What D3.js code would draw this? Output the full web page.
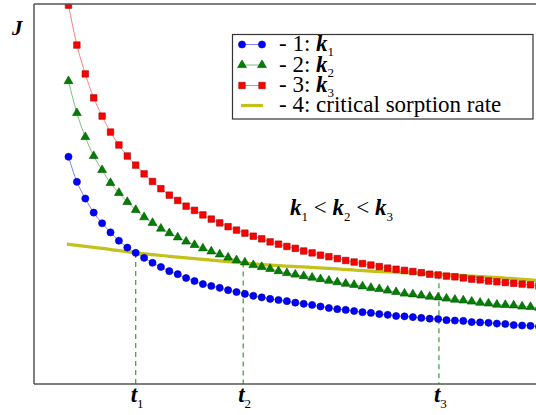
<!DOCTYPE html>
<html>
<head>
<meta charset="utf-8">
<script src="https://cdn.jsdelivr.net/npm/d3@7"></script>
<style>
  body { margin: 0; background: #fff; }
  svg { display: block; }
</style>
</head>
<body>
<svg id="chart" width="536" height="415"></svg>
<script>
// time index of each marker (0..56), J values
var blueJ = [5.98, 5.32, 4.88, 4.51, 4.23, 3.99, 3.77, 3.59, 3.45, 3.32,
    3.19, 3.08, 2.97, 2.89, 2.79, 2.71, 2.63, 2.58, 2.53, 2.47,
    2.42, 2.37, 2.32, 2.28, 2.24, 2.21, 2.18, 2.14, 2.11, 2.08,
    2.04, 2.00, 1.97, 1.95, 1.92, 1.89, 1.87, 1.84, 1.82, 1.79,
    1.78, 1.76, 1.74, 1.72, 1.71, 1.68, 1.67, 1.66, 1.63, 1.62,
    1.61, 1.59, 1.58, 1.55, 1.54, 1.53, 1.51];

var greenJ = [7.97, 7.13, 6.50, 6.00, 5.63, 5.29, 5.03, 4.79, 4.58, 4.39,
    4.24, 4.09, 3.97, 3.86, 3.75, 3.66, 3.57, 3.49, 3.41, 3.33,
    3.26, 3.20, 3.13, 3.08, 3.03, 2.97, 2.92, 2.88, 2.84, 2.80,
    2.76, 2.72, 2.68, 2.64, 2.61, 2.57, 2.53, 2.50, 2.46, 2.42,
    2.38, 2.36, 2.33, 2.30, 2.28, 2.25, 2.22, 2.20, 2.17, 2.14,
    2.12, 2.09, 2.08, 2.07, 2.04, 2.03, 2.01];

var redJ = [9.97, 8.92, 8.16, 7.53, 7.05, 6.63, 6.29, 6.00, 5.76, 5.53,
    5.33, 5.14, 4.97, 4.83, 4.68, 4.57, 4.45, 4.34, 4.24, 4.14,
    4.05, 3.97, 3.89, 3.82, 3.74, 3.68, 3.62, 3.57, 3.50, 3.45,
    3.39, 3.35, 3.30, 3.25, 3.21, 3.17, 3.13, 3.09, 3.05, 3.02,
    2.99, 2.96, 2.93, 2.89, 2.87, 2.84, 2.82, 2.79, 2.76, 2.74,
    2.71, 2.69, 2.67, 2.65, 2.63, 2.61, 2.58];

// critical sorption rate
var critT = [-0.2, 4, 8, 12, 16, 20, 24, 28, 32, 36, 40, 44, 48, 52, 56];
var critJ = [3.68, 3.57, 3.45, 3.36, 3.28, 3.20, 3.13, 3.08, 3.03, 2.97, 2.93, 2.89, 2.84, 2.79, 2.72];

// crossing points t1, t2, t3
var crossNames = ['1', '2', '3'];
var crossT = [8.0, 20.8, 44.1];
var crossJ = [3.45, 3.20, 2.89];

var legendLabels = ['1', '2', '3', '4: critical sorption rate'];

var serif = '"Liberation Serif", "Times New Roman", Times, "DejaVu Serif", serif';

var svg = d3.select('#chart');

var x = d3.scaleLinear().domain([0, 56]).range([68.5, 538.9]);
var y = d3.scaleLinear().domain([0, 10]).range([384, 4]);

svg.append('clipPath').attr('id', 'plotclip')
    .append('rect').attr('x', 34).attr('y', 4).attr('width', 520).attr('height', 380);

var plot = svg.append('g').attr('clip-path', 'url(#plotclip)');

// dashed verticals
for (let i = 0; i < crossT.length; i++) {
    plot.append('line')
        .attr('x1', x(crossT[i])).attr('x2', x(crossT[i]))
        .attr('y1', y(crossJ[i])).attr('y2', y(0))
        .attr('stroke', '#4aa04a').attr('stroke-width', 1.3)
        .attr('stroke-dasharray', '5,4');
}

var line = d3.line().x((d, i) => x(i)).y(d => y(d)).curve(d3.curveMonotoneX);

var series = [
    { vals: blueJ, color: '#0000ff', edge: '#0000aa', lineColor: '#7f7fff', shape: d3.symbolCircle, size: 40 },
    { vals: greenJ, color: '#008000', edge: '#005000', lineColor: '#7fbf7f', shape: d3.symbolTriangle, size: 34 },
    { vals: redJ, color: '#ff0000', edge: '#a00000', lineColor: '#ff8080', shape: d3.symbolSquare, size: 42 }
];

series.forEach(function (s) {
    plot.append('path').attr('d', line(s.vals))
        .attr('fill', 'none').attr('stroke', s.lineColor).attr('stroke-width', 1);
});

// yellow critical line
var critLine = d3.line().x((d, i) => x(critT[i])).y(d => y(d)).curve(d3.curveMonotoneX);
plot.append('path').attr('d', critLine(critJ))
    .attr('fill', 'none').attr('stroke', '#c4c21a').attr('stroke-width', 3.2);

series.forEach(function (s) {
    plot.selectAll(null).data(s.vals).enter().append('path')
        .attr('d', d3.symbol().type(s.shape).size(s.size))
        .attr('transform', (d, i) => 'translate(' + x(i) + ',' + y(d) + ')')
        .attr('fill', s.color).attr('stroke', s.edge).attr('stroke-width', 0.6);
});

// frame: top, left, bottom
var frameColor = '#555';
svg.append('line').attr('x1', 34).attr('x2', 536).attr('y1', 4).attr('y2', 4)
    .attr('stroke', frameColor).attr('stroke-width', 1.5);
svg.append('line').attr('x1', 34).attr('x2', 34).attr('y1', 4).attr('y2', 384)
    .attr('stroke', frameColor).attr('stroke-width', 1.5);
svg.append('line').attr('x1', 34).attr('x2', 536).attr('y1', 384).attr('y2', 384)
    .attr('stroke', frameColor).attr('stroke-width', 1.5);

// axis label J
svg.append('text').attr('x', 12).attr('y', 35).attr('font-family', serif)
    .attr('font-size', 21).attr('font-weight', 'bold').attr('font-style', 'italic')
    .text('J');

// t labels
for (let i = 0; i < crossT.length; i++) {
    let t = svg.append('text').attr('x', x(crossT[i]) - 5).attr('y', 402)
        .attr('font-family', serif).attr('font-size', 23);
    t.append('tspan').attr('font-weight', 'bold').attr('font-style', 'italic').text('t');
    t.append('tspan').attr('dy', 6).attr('font-size', 13).text(crossNames[i]);
}

// k1 < k2 < k3 annotation
var ann = svg.append('text').attr('x', 290).attr('y', 215)
    .attr('font-family', serif).attr('font-size', 23);
for (let i = 0; i < 3; i++) {
    ann.append('tspan').attr('font-weight', 'bold').attr('font-style', 'italic').text('k');
    ann.append('tspan').attr('dy', 6).attr('font-size', 13).text(crossNames[i]);
    if (i < 2) ann.append('tspan').attr('dy', -6).text(' < ');
}

// legend
var lg = svg.append('g');
lg.append('rect').attr('x', 232.5).attr('y', 34.5).attr('width', 300.5).attr('height', 84.5)
    .attr('fill', '#fff').attr('stroke', '#333').attr('stroke-width', 1.2);

var rowBase = [51, 71.5, 92, 112];
for (let i = 0; i < 4; i++) {
    let my = rowBase[i] - 6.5;
    if (i < 3) {
        let s = series[i];
        lg.append('line').attr('x1', 242).attr('x2', 262).attr('y1', my).attr('y2', my)
            .attr('stroke', s.lineColor).attr('stroke-width', 1);
        [242, 262].forEach(function (mx) {
            lg.append('path').attr('d', d3.symbol().type(s.shape).size(s.size))
                .attr('transform', 'translate(' + mx + ',' + my + ')')
                .attr('fill', s.color).attr('stroke', s.edge).attr('stroke-width', 0.6);
        });
        let t = lg.append('text').attr('x', 279).attr('y', rowBase[i])
            .attr('font-family', serif).attr('font-size', 23);
        t.append('tspan').text('- ' + legendLabels[i] + ': ');
        t.append('tspan').attr('font-weight', 'bold').attr('font-style', 'italic').text('k');
        t.append('tspan').attr('dy', 5).attr('font-size', 13).text(legendLabels[i]);
    } else {
        lg.append('line').attr('x1', 241).attr('x2', 263).attr('y1', my).attr('y2', my)
            .attr('stroke', '#c4c21a').attr('stroke-width', 3.2);
        lg.append('text').attr('x', 279).attr('y', rowBase[i])
            .attr('font-family', serif).attr('font-size', 23)
            .text('- ' + legendLabels[i]);
    }
}
</script>
</body>
</html>
